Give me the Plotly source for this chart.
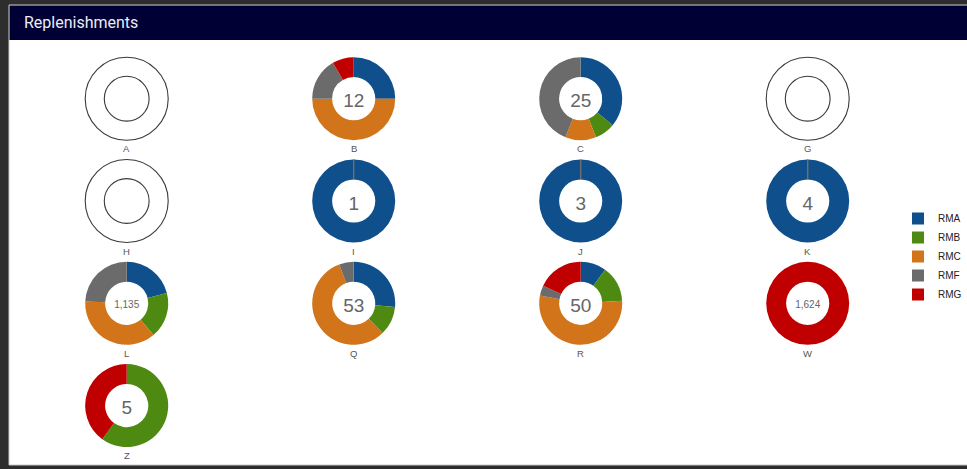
import plotly.graph_objects as go

# Page size in pixels
W, H = 967, 469

# Sites, in reading order (four rings per row)
sites = ["A", "B", "C", "G", "H", "I", "J", "K", "L", "Q", "R", "W", "Z"]

# Replenishment categories and their colours
categories = ["RMA", "RMB", "RMC", "RMF", "RMG"]
cat_colors = ["#0f4f8c", "#4e8a12", "#d2741a", "#6b6b6b", "#c00000"]

# Replenishment counts per site for each category
rma = [0, 3, 9, 0, 0, 1, 3, 4, 238, 14, 5, 0, 0]
rmb = [0, 0, 2, 0, 0, 0, 0, 0, 203, 6, 7, 0, 3]
rmc = [0, 6, 3, 0, 0, 0, 0, 0, 418, 30, 27, 0, 0]
rmf = [0, 2, 11, 0, 0, 0, 0, 0, 276, 3, 2, 0, 0]
rmg = [0, 1, 0, 0, 0, 0, 0, 0, 0, 0, 9, 1624, 2]

series = [rma, rmb, rmc, rmf, rmg]

# Grid geometry (pixels)
COL0, COL_STEP = 126.7, 227.0
ROW0, ROW_STEP = 98.7, 102.3
R = 41.5
HOLE = 0.52
PER_ROW = 4


def px_x(x):
    return x / W


def px_y(y):
    return 1 - y / H


fig = go.Figure()
shapes = []
annotations = []

# Panel background and header bar
shapes.append(dict(type="rect", xref="paper", yref="paper", layer="below",
                   x0=px_x(9), x1=px_x(968), y0=px_y(465), y1=px_y(5),
                   fillcolor="white", line=dict(color="#c8c8c8", width=1)))
shapes.append(dict(type="rect", xref="paper", yref="paper", layer="below",
                   x0=px_x(9.5), x1=px_x(968), y0=px_y(40), y1=px_y(5.5),
                   fillcolor="#000035", line=dict(width=0)))
annotations.append(dict(text="Replenishments", xref="paper", yref="paper",
                        x=px_x(21.5), y=px_y(22.5), xanchor="left", yanchor="middle",
                        showarrow=False,
                        font=dict(family="Roboto, Arial, sans-serif", size=16, color="#ececf4")))

for i, site in enumerate(sites):
    row, col = divmod(i, PER_ROW)
    cx = COL0 + col * COL_STEP
    cy = ROW0 + row * ROW_STEP
    vals = [s[i] for s in series]
    total = sum(vals)

    if total == 0:
        # Empty ring outline when a site has no replenishments
        for rad in (R, R * 0.54):
            shapes.append(dict(type="circle", xref="paper", yref="paper",
                               x0=px_x(cx - rad), x1=px_x(cx + rad),
                               y0=px_y(cy + rad), y1=px_y(cy - rad),
                               line=dict(color="#3a3a3a", width=1.1)))
    else:
        fig.add_trace(go.Pie(
            labels=categories,
            values=vals,
            marker=dict(colors=cat_colors, line=dict(width=0)),
            hole=HOLE,
            sort=False,
            direction="clockwise",
            rotation=0,
            textinfo="none",
            hoverinfo="label+value",
            name=site,
            domain=dict(x=[px_x(cx - R), px_x(cx + R)],
                        y=[px_y(cy + R), px_y(cy - R)]),
            title=dict(text=f"{total:,}", position="middle center",
                       font=dict(family="Arial, Liberation Sans, sans-serif",
                                 size=19 if total < 1000 else 10, color="#666666")),
        ))
        # Rings filled entirely by the first category show the slice seam at 12 o'clock
        if vals[0] == total:
            shapes.append(dict(type="line", xref="paper", yref="paper",
                               x0=px_x(cx), x1=px_x(cx),
                               y0=px_y(cy - R), y1=px_y(cy - R * HOLE),
                               line=dict(color="#6f6f6f", width=1.5)))

    annotations.append(dict(text=site, xref="paper", yref="paper",
                            x=px_x(cx), y=px_y(cy + 50), xanchor="center", yanchor="middle",
                            showarrow=False,
                            font=dict(family="Arial, Liberation Sans, sans-serif",
                                      size=9.5, color="#555555")))

fig.update_layout(
    width=W, height=H,
    margin=dict(l=0, r=0, t=0, b=0),
    paper_bgcolor="#2d2d2d",
    plot_bgcolor="white",
    shapes=shapes,
    annotations=annotations,
    showlegend=True,
    legend=dict(x=1, xanchor="right", y=px_y(256.5), yanchor="middle",
                font=dict(family="Arial, Liberation Sans, sans-serif", size=10, color="#222222"),
                bgcolor="rgba(0,0,0,0)", itemclick=False, itemdoubleclick=False),
)

fig.write_html("out.html")
